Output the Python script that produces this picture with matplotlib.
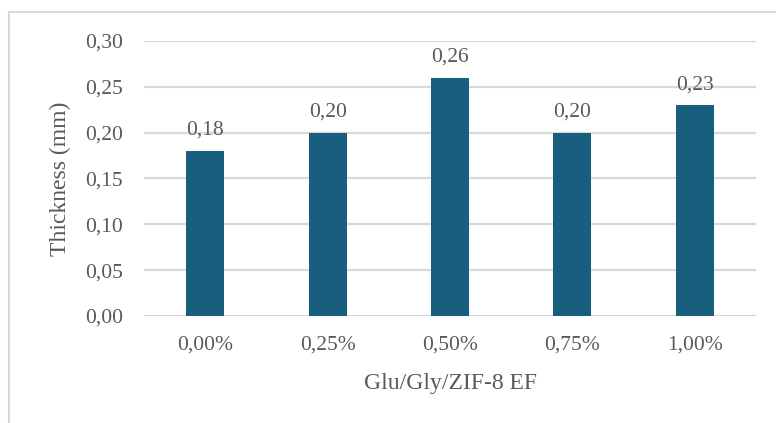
import matplotlib
matplotlib.use("Agg")
from matplotlib import pyplot as plt
from matplotlib.lines import Line2D

# Film thickness for each Glu/Gly/ZIF-8 EF loading
loadings = ["0,00%", "0,25%", "0,50%", "0,75%", "1,00%"]
thickness = [0.18, 0.20, 0.26, 0.20, 0.23]
yticks = [0.00, 0.05, 0.10, 0.15, 0.20, 0.25, 0.30]

plt.rcParams["font.family"] = ["Liberation Serif", "DejaVu Serif"]
text_colour = "#595959"
bar_colour = "#185f7f"
grid_colour = "#d9d9d9"

W, H = 776, 423
fig = plt.figure(figsize=(W / 100, H / 100), dpi=100)
ax = fig.add_axes([144 / W, (H - 316) / H, (756 - 144) / W, (316 - 41) / H])

x = range(len(loadings))
ax.bar(x, thickness, width=0.31, color=bar_colour, zorder=3)
for xi, v in zip(x, thickness):
    ax.annotate(f"{v:.2f}".replace(".", ","), (xi, v), xytext=(0, 11.5),
                textcoords="offset points", ha="center", va="baseline",
                fontsize=15.5, color=text_colour)

ax.set_xlim(-0.5, len(loadings) - 0.5)
ax.set_ylim(0, 0.30)
ax.set_yticks(yticks)
ax.set_yticklabels([f"{t:.2f}".replace(".", ",") for t in yticks])
ax.set_xticks(list(x))
ax.set_xticklabels(loadings)
ax.tick_params(length=0, labelsize=15.5, colors=text_colour)
ax.tick_params(axis="y", pad=15)
ax.tick_params(axis="x", pad=14)
ax.yaxis.grid(True, color=grid_colour, lw=1.6, zorder=0)
ax.set_axisbelow(True)
for s in ax.spines.values():
    s.set_visible(False)

ax.set_xlabel("Glu/Gly/ZIF-8 EF", fontsize=17, color=text_colour, labelpad=13)
ax.set_ylabel("Thickness (mm)", fontsize=17, color=text_colour, labelpad=10)

# Chart frame: top and left edges only
fig.add_artist(Line2D([9 / W, 1], [(H - 12) / H] * 2, color=grid_colour, lw=1.5))
fig.add_artist(Line2D([9 / W] * 2, [0, (H - 12) / H], color=grid_colour, lw=1.5))

fig.savefig("out.png", dpi=100)
